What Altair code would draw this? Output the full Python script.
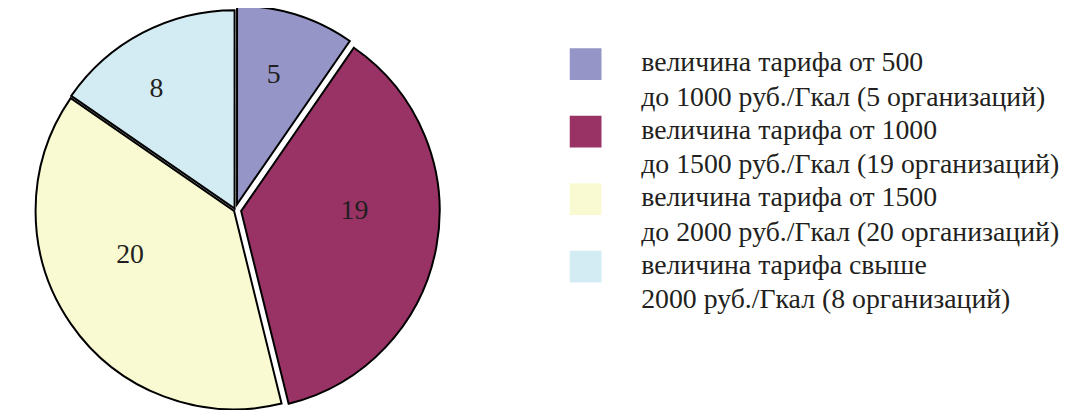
import math
import altair as alt
import pandas as pd

# ---- data ----
counts = [5, 19, 20, 8]
line1 = [
    "величина тарифа от 500",
    "величина тарифа от 1000",
    "величина тарифа от 1500",
    "величина тарифа свыше",
]
line2 = [
    "до 1000 руб./Гкал (5 организаций)",
    "до 1500 руб./Гкал (19 организаций)",
    "до 2000 руб./Гкал (20 организаций)",
    "2000 руб./Гкал (8 организаций)",
]
colors = ["#9595c7", "#993366", "#fafad2", "#d3ecf3"]

# ---- layout / style ----
explode = [6, 6, 1.5, 1.5]
label_r = [134, 110, 114, 146]
label_dx = [-3, 6, -11, -11]
label_dy = [-2, -20, -20, 9]
CX, CY, R = 229, 202, 200
FONT = "Liberation Serif"
TEXT_COLOR = "#231f20"

total = sum(counts)
starts, ends, mids = [], [], []
acc = 0
for c in counts:
    starts.append(acc)
    ends.append(acc + c)
    mids.append(acc + c / 2)
    acc += c

df = pd.DataFrame({
    "idx": list(range(len(counts))),
    "count": counts,
    "start": starts,
    "end": ends,
    "mid": mids,
    "line1": line1,
    "line2": line2,
})

theta_scale = alt.Scale(domain=[0, total], range=[0, 2 * math.pi])
color_scale = alt.Scale(domain=list(range(len(counts))), range=colors)

base = alt.Chart(df)
layers = []
for i in range(len(counts)):
    ang = mids[i] / total * 2 * math.pi
    cx = CX + explode[i] * math.sin(ang)
    cy = CY - explode[i] * math.cos(ang)
    arc = base.transform_filter(alt.datum.idx == i).mark_arc(
        radius=R, stroke="black", strokeWidth=2, strokeJoin="miter"
    ).encode(
        theta=alt.Theta("start:Q", scale=theta_scale, stack=None),
        theta2="end:Q",
        color=alt.Color("idx:N", scale=color_scale, legend=None),
        x=alt.value(cx),
        y=alt.value(cy),
    )
    txt = base.transform_filter(alt.datum.idx == i).mark_text(
        radius=label_r[i], font=FONT, fontSize=28, color=TEXT_COLOR,
        align="center", baseline="middle", dx=label_dx[i], dy=label_dy[i],
    ).encode(
        theta=alt.Theta("mid:Q", scale=theta_scale, stack=None),
        text="count:Q",
        x=alt.value(cx),
        y=alt.value(cy),
    )
    layers += [arc, txt]

y_leg = alt.Y("idx:O", scale=alt.Scale(domain=list(range(len(counts))), range=[55, 259], padding=0), axis=None)

squares = base.mark_square(size=1024, strokeWidth=0, opacity=1).encode(
    x=alt.value(582),
    y=y_leg,
    color=alt.Color("idx:N", scale=color_scale, legend=None),
)
t1 = base.mark_text(align="left", baseline="alphabetic", dy=7, font=FONT,
                    fontSize=28, color=TEXT_COLOR).encode(
    x=alt.value(638), y=y_leg, text="line1:N")
t2 = base.mark_text(align="left", baseline="alphabetic", dy=42, font=FONT,
                    fontSize=28, color=TEXT_COLOR).encode(
    x=alt.value(638), y=y_leg, text="line2:N")

chart = alt.layer(*layers, squares, t1, t2).properties(
    width=1063, height=402,
    autosize=alt.AutoSizeParams(type="none"),
    padding=0,
).configure_view(stroke=None)

chart.save("out.html", embed_options={"renderer": "svg", "actions": False})
